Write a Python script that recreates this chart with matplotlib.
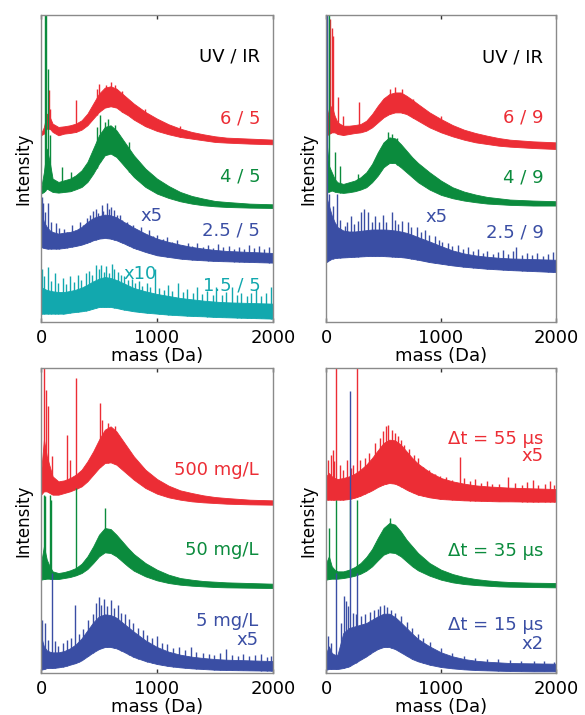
import numpy as np
import matplotlib
matplotlib.use("Agg")
import matplotlib.pyplot as plt

plt.rcParams["font.family"] = ["DejaVu Sans"]

# colours of the traces
RED = "#ec2d35"
GREEN = "#0b8b3d"
BLUE = "#3a4ea4"
CYAN = "#12a8ae"

# shared mass grid (Da)
mass = [0, 25, 50, 75, 100, 150, 200, 250, 300, 350, 400, 450, 500, 550, 600,
        650, 700, 750, 800, 900, 1000, 1100, 1200, 1300, 1400, 1500, 1600, 1800, 2000]

# ---- panel 1 : UV / IR = x / 5 ----
p1_red_lo = [560, 565, 580, 580, 570, 560, 565, 567, 570, 577, 590, 610, 630, 643, 647,
             643, 630, 620, 607, 587, 573, 563, 555, 550, 545, 540, 538, 535, 533]
p1_red_hi = [565, 585, 625, 615, 595, 585, 587, 590, 595, 605, 625, 655, 685, 703, 707,
             700, 685, 670, 655, 630, 610, 593, 580, 570, 563, 557, 553, 550, 547]
p1_red_spk = [(65, 695), (80, 640), (300, 667), (480, 700), (500, 715), (560, 712),
              (600, 720), (640, 712), (700, 692), (900, 640), (1200, 588)]
p1_green_lo = [385, 390, 400, 395, 390, 388, 390, 392, 398, 405, 420, 445, 475, 500, 505,
               495, 475, 455, 435, 405, 385, 372, 362, 355, 350, 347, 345, 343, 342]
p1_green_hi = [400, 450, 520, 480, 430, 420, 425, 430, 440, 455, 480, 520, 560, 585, 590,
               575, 550, 525, 500, 460, 430, 408, 390, 378, 370, 363, 360, 355, 353]
p1_green_spk = [(35, 921), (45, 921), (60, 760), (75, 560), (180, 465), (260, 450),
                (480, 585), (510, 620), (550, 600), (580, 610), (640, 590), (760, 540)]
p1_blue_lo = [225, 222, 220, 220, 220, 220, 222, 225, 228, 232, 238, 245, 250, 252, 250,
              245, 238, 230, 222, 210, 200, 195, 190, 187, 185, 183, 182, 180, 178]
p1_blue_hi = [330, 300, 285, 275, 270, 265, 268, 270, 275, 285, 300, 312, 318, 322, 320,
              314, 303, 293, 283, 265, 250, 240, 232, 225, 220, 216, 213, 210, 207]
p1_blue_spk = [(5, 375), (18, 356), (33, 330), (63, 356), (84, 300), (127, 296), (151, 282),
               (198, 280), (221, 270), (264, 290), (289, 276), (336, 300), (361, 292),
               (398, 312), (422, 320), (447, 334), (471, 340), (492, 326), (523, 350),
               (538, 332), (566, 356), (583, 338), (604, 345), (631, 335), (652, 322),
               (681, 320), (702, 306), (739, 300), (758, 290), (796, 292), (817, 280),
               (862, 285), (887, 268), (931, 275), (968, 258), (1004, 262), (1051, 248),
               (1083, 255), (1129, 240), (1176, 246), (1213, 232), (1266, 238), (1302, 228),
               (1347, 236), (1394, 226), (1438, 230), (1481, 222), (1526, 234), (1572, 224),
               (1618, 229), (1664, 220), (1708, 226), (1749, 218), (1793, 231), (1836, 221),
               (1879, 227), (1922, 218), (1968, 225)]
p1_cyan_lo = [25, 25, 25, 25, 25, 25, 25, 28, 30, 32, 35, 40, 45, 45, 45,
              42, 38, 35, 32, 28, 25, 22, 20, 18, 17, 15, 14, 12, 10]
p1_cyan_hi = [105, 100, 96, 94, 92, 90, 90, 93, 97, 103, 112, 122, 130, 135, 132,
              126, 118, 110, 102, 92, 84, 78, 72, 68, 64, 61, 59, 57, 55]
p1_cyan_spk = [(8, 160), (27, 138), (58, 166), (83, 124), (117, 148), (143, 118), (188, 132),
               (214, 115), (252, 138), (281, 120), (322, 142), (347, 126), (389, 148),
               (418, 152), (443, 140), (476, 170), (497, 158), (518, 171), (541, 150),
               (563, 168), (587, 148), (608, 175), (633, 158), (662, 150), (689, 140),
               (716, 138), (748, 126), (781, 130), (809, 116), (846, 122), (872, 108),
               (911, 118), (943, 104), (985, 160), (1017, 102), (1058, 96), (1096, 112),
               (1133, 92), (1184, 118), (1228, 90), (1262, 98), (1311, 86), (1347, 106),
               (1392, 84), (1433, 92), (1481, 80), (1512, 104), (1557, 82), (1598, 90),
               (1643, 106), (1688, 80), (1727, 88), (1772, 78), (1811, 86), (1853, 100),
               (1897, 78), (1938, 88), (1982, 104)]

# ---- panel 2 : UV / IR = x / 9 ----
p2_red_lo = [560, 565, 570, 570, 565, 562, 565, 568, 570, 575, 585, 600, 615, 625, 630,
             630, 625, 615, 605, 585, 570, 558, 548, 540, 535, 530, 527, 523, 520]
p2_red_hi = [600, 640, 650, 620, 600, 590, 590, 592, 595, 605, 625, 650, 672, 685, 690,
             690, 680, 668, 655, 630, 610, 592, 578, 568, 560, 553, 548, 543, 540]
p2_red_spk = [(35, 910), (50, 885), (65, 860), (100, 675), (150, 620), (290, 660),
              (560, 700), (600, 705), (660, 700), (760, 670), (1000, 620)]
p2_green_lo = [390, 392, 395, 392, 390, 388, 390, 393, 398, 405, 420, 440, 465, 478, 478,
               465, 450, 435, 420, 398, 382, 372, 365, 360, 356, 354, 352, 350, 350]
p2_green_hi = [560, 470, 450, 430, 420, 415, 420, 425, 435, 450, 475, 510, 540, 555, 552,
               535, 515, 495, 478, 450, 425, 405, 392, 383, 376, 372, 368, 365, 363]
p2_green_spk = [(12, 923), (22, 923), (80, 510), (120, 470), (280, 445), (540, 570),
                (570, 565), (620, 552)]
p2_blue_lo = [180, 185, 190, 192, 193, 194, 195, 196, 197, 198, 198, 198, 198, 197, 196,
              195, 193, 190, 187, 180, 175, 170, 166, 163, 160, 158, 156, 153, 150]
p2_blue_hi = [380, 350, 320, 300, 285, 275, 272, 272, 274, 276, 278, 278, 278, 277, 275,
              272, 268, 262, 255, 242, 228, 215, 206, 200, 196, 193, 191, 189, 187]
p2_blue_spk = [(8, 923), (28, 386), (57, 350), (95, 385), (124, 306), (163, 290), (186, 300),
               (219, 320), (247, 295), (276, 305), (303, 330), (331, 340), (368, 331),
               (396, 300), (428, 320), (457, 300), (499, 321), (523, 300), (571, 331),
               (597, 306), (628, 296), (664, 305), (716, 301), (741, 284), (787, 285),
               (823, 270), (861, 276), (893, 262), (944, 258), (981, 246), (1012, 240),
               (1058, 236), (1093, 228), (1148, 230), (1187, 220), (1236, 224), (1279, 212),
               (1318, 218), (1367, 208), (1404, 214), (1452, 205), (1493, 210), (1541, 216),
               (1578, 204), (1627, 212), (1652, 225), (1702, 202), (1748, 208), (1791, 200),
               (1838, 206), (1884, 199), (1926, 204), (1972, 210)]

# ---- panel 3 : concentration ----
p3_red_lo = [535, 545, 545, 540, 535, 535, 540, 545, 552, 560, 575, 595, 615, 630, 632,
             625, 610, 595, 580, 555, 538, 527, 520, 515, 512, 510, 508, 506, 505]
p3_red_hi = [600, 700, 650, 620, 590, 575, 578, 585, 595, 610, 635, 665, 700, 730, 740,
             725, 700, 675, 650, 610, 582, 562, 548, 540, 533, 528, 525, 520, 518]
p3_red_spk = [(30, 915), (45, 850), (60, 800), (95, 650), (225, 715), (250, 640),
              (300, 885), (510, 810), (530, 760), (580, 750), (640, 740)]
p3_green_lo = [280, 282, 283, 283, 282, 282, 285, 288, 293, 300, 312, 330, 350, 362, 360,
               350, 335, 320, 307, 290, 278, 270, 265, 262, 260, 258, 257, 256, 255]
p3_green_hi = [330, 380, 340, 320, 305, 300, 303, 308, 315, 328, 350, 380, 415, 435, 432,
               415, 395, 375, 357, 330, 310, 295, 285, 280, 276, 274, 272, 270, 268]
p3_green_spk = [(25, 535), (35, 530), (75, 535), (88, 520), (300, 555), (555, 495)]
p3_blue_lo = [10, 12, 15, 15, 15, 17, 20, 25, 30, 38, 50, 62, 72, 78, 78,
              74, 66, 57, 48, 36, 27, 21, 17, 14, 12, 10, 9, 8, 7]
p3_blue_hi = [110, 80, 68, 64, 62, 62, 66, 74, 86, 104, 128, 152, 170, 176, 174,
              166, 152, 138, 124, 98, 78, 64, 55, 49, 45, 42, 40, 38, 36]
p3_blue_spk = [(12, 160), (35, 149), (57, 100), (92, 300), (118, 95), (146, 82), (187, 90),
               (223, 98), (262, 105), (293, 204), (327, 118), (366, 132), (408, 158),
               (446, 178), (478, 209), (502, 229), (521, 205), (547, 222), (568, 200),
               (601, 218), (627, 196), (662, 205), (691, 180), (723, 176), (758, 162),
               (796, 150), (838, 136), (877, 128), (916, 114), (958, 104), (1003, 110),
               (1047, 90), (1088, 86), (1142, 76), (1188, 78), (1241, 68), (1297, 78),
               (1338, 62), (1394, 60), (1446, 58), (1489, 54), (1541, 60), (1598, 72),
               (1644, 54), (1697, 52), (1742, 56), (1796, 50), (1848, 54), (1893, 57),
               (1946, 49), (1984, 52)]

# ---- panel 4 : delay ----
p4_red_lo = [520, 520, 520, 520, 520, 520, 522, 526, 532, 540, 548, 558, 566, 570, 568,
             560, 550, 542, 535, 527, 522, 520, 518, 517, 516, 515, 515, 514, 514]
p4_red_hi = [590, 600, 590, 585, 582, 585, 590, 598, 610, 625, 645, 668, 690, 700, 698,
             685, 665, 645, 628, 603, 585, 575, 568, 563, 560, 558, 556, 554, 552]
p4_red_spk = [(85, 915), (267, 915), (18, 640), (42, 655), (57, 670), (73, 635), (118, 625),
              (146, 610), (182, 640), (213, 615), (238, 625), (297, 640), (338, 645),
              (377, 660), (428, 690), (466, 705), (497, 725), (518, 740), (543, 745),
              (571, 730), (598, 720), (622, 712), (653, 700), (679, 685), (718, 672),
              (761, 655), (797, 645), (846, 618), (893, 608), (947, 598), (991, 592),
              (1043, 588), (1097, 580), (1166, 649), (1203, 584), (1248, 575), (1297, 582),
              (1351, 570), (1396, 576), (1446, 568), (1502, 566), (1586, 589), (1647, 570),
              (1703, 565), (1751, 574), (1802, 578), (1847, 565), (1903, 568), (1948, 576),
              (1986, 565)]
p4_green_lo = [280, 282, 283, 283, 283, 285, 288, 292, 298, 307, 320, 338, 355, 362, 360,
               350, 335, 320, 308, 292, 280, 272, 267, 264, 262, 260, 259, 258, 257]
p4_green_hi = [330, 350, 320, 310, 305, 305, 310, 318, 330, 348, 372, 405, 435, 450, 445,
               425, 400, 380, 360, 330, 310, 297, 288, 282, 278, 275, 273, 271, 270]
p4_green_spk = [(30, 435), (85, 520), (209, 520), (267, 520), (560, 465)]
p4_blue_lo = [10, 12, 12, 12, 12, 15, 20, 30, 40, 50, 62, 72, 78, 78, 72,
              62, 52, 42, 35, 25, 18, 14, 11, 9, 8, 7, 6, 5, 5]
p4_blue_hi = [60, 80, 60, 55, 55, 120, 135, 140, 145, 150, 160, 170, 178, 178, 168,
              152, 135, 118, 102, 80, 62, 50, 42, 37, 34, 32, 30, 29, 28]
p4_blue_spk = [(85, 300), (209, 845), (267, 300), (18, 110), (46, 90), (128, 150), (158, 230),
               (176, 215), (193, 200), (232, 180), (257, 178), (303, 170), (338, 178),
               (381, 182), (417, 188), (452, 192), (472, 200), (503, 205), (528, 198),
               (562, 188), (603, 180), (648, 170), (703, 152), (746, 135), (803, 118),
               (846, 104), (907, 94), (1003, 76), (1097, 60), (1203, 52), (1297, 46),
               (1403, 42), (1496, 41), (1603, 38), (1697, 36), (1804, 35), (1896, 37),
               (1978, 34)]


def trace(ax, lo, hi, spikes, color):
    ax.fill_between(mass, lo, hi, color=color, lw=0.6, zorder=2)
    for m, top in spikes:
        base = np.interp(m, mass, lo)
        ax.vlines(m, base, top, color=color, lw=1.0, zorder=2)


def style(ax, ymax):
    ax.set_xlim(0, 2000)
    ax.set_ylim(0, ymax)
    ax.set_yticks([])
    ax.set_xticks([0, 1000, 2000])
    ax.tick_params(axis="x", direction="in", top=True, length=3, width=1,
                   labelsize=13, pad=5, color="#333333")
    for s in ax.spines.values():
        s.set_color("#8a8a8a")
        s.set_linewidth(1.0)
    ax.set_xlabel("mass (Da)", fontsize=13, labelpad=0)
    ax.set_ylabel("Intensity", fontsize=12, labelpad=6)


fig = plt.figure(figsize=(5.85, 7.15), dpi=100)
ax1 = fig.add_axes([0.0701, 0.5497, 0.3966, 0.4294])
ax2 = fig.add_axes([0.5573, 0.5497, 0.3932, 0.4294])
ax3 = fig.add_axes([0.0701, 0.0587, 0.3966, 0.4266])
ax4 = fig.add_axes([0.5573, 0.0587, 0.3932, 0.4266])

fs = 13

# panel 1
trace(ax1, p1_red_lo, p1_red_hi, p1_red_spk, RED)
trace(ax1, p1_green_lo, p1_green_hi, p1_green_spk, GREEN)
trace(ax1, p1_blue_lo, p1_blue_hi, p1_blue_spk, BLUE)
trace(ax1, p1_cyan_lo, p1_cyan_hi, p1_cyan_spk, CYAN)
style(ax1, 921)
ax1.text(1890, 795, "UV / IR", color="black", fontsize=fs, ha="right", va="center")
ax1.text(1890, 610, "6 / 5", color=RED, fontsize=fs, ha="right", va="center")
ax1.text(1890, 435, "4 / 5", color=GREEN, fontsize=fs, ha="right", va="center")
ax1.text(1890, 275, "2.5 / 5", color=BLUE, fontsize=fs, ha="right", va="center")
ax1.text(955, 317, "x5", color=BLUE, fontsize=fs, ha="center", va="center")
ax1.text(1890, 110, "1.5 / 5", color=CYAN, fontsize=fs, ha="right", va="center")
ax1.text(855, 145, "x10", color=CYAN, fontsize=fs, ha="center", va="center")

# panel 2
trace(ax2, p2_red_lo, p2_red_hi, p2_red_spk, RED)
trace(ax2, p2_green_lo, p2_green_hi, p2_green_spk, GREEN)
trace(ax2, p2_blue_lo, p2_blue_hi, p2_blue_spk, BLUE)
style(ax2, 923)
ax2.text(1890, 795, "UV / IR", color="black", fontsize=fs, ha="right", va="center")
ax2.text(1890, 615, "6 / 9", color=RED, fontsize=fs, ha="right", va="center")
ax2.text(1890, 435, "4 / 9", color=GREEN, fontsize=fs, ha="right", va="center")
ax2.text(1890, 270, "2.5 / 9", color=BLUE, fontsize=fs, ha="right", va="center")
ax2.text(962, 315, "x5", color=BLUE, fontsize=fs, ha="center", va="center")

# panel 3
trace(ax3, p3_red_lo, p3_red_hi, p3_red_spk, RED)
trace(ax3, p3_green_lo, p3_green_hi, p3_green_spk, GREEN)
trace(ax3, p3_blue_lo, p3_blue_hi, p3_blue_spk, BLUE)
style(ax3, 915)
ax3.text(1876, 610, "500 mg/L", color=RED, fontsize=fs, ha="right", va="center")
ax3.text(1876, 370, "50 mg/L", color=GREEN, fontsize=fs, ha="right", va="center")
ax3.text(1876, 155, "5 mg/L", color=BLUE, fontsize=fs, ha="right", va="center")
ax3.text(1876, 100, "x5", color=BLUE, fontsize=fs, ha="right", va="center")

# panel 4
trace(ax4, p4_red_lo, p4_red_hi, p4_red_spk, RED)
trace(ax4, p4_green_lo, p4_green_hi, p4_green_spk, GREEN)
trace(ax4, p4_blue_lo, p4_blue_hi, p4_blue_spk, BLUE)
style(ax4, 915)
ax4.text(1890, 702, "\u0394t = 55 \u03bcs", color=RED, fontsize=fs, ha="right", va="center")
ax4.text(1890, 650, "x5", color=RED, fontsize=fs, ha="right", va="center")
ax4.text(1890, 365, "\u0394t = 35 \u03bcs", color=GREEN, fontsize=fs, ha="right", va="center")
ax4.text(1890, 145, "\u0394t = 15 \u03bcs", color=BLUE, fontsize=fs, ha="right", va="center")
ax4.text(1890, 88, "x2", color=BLUE, fontsize=fs, ha="right", va="center")

fig.savefig("out.png", dpi=100)
